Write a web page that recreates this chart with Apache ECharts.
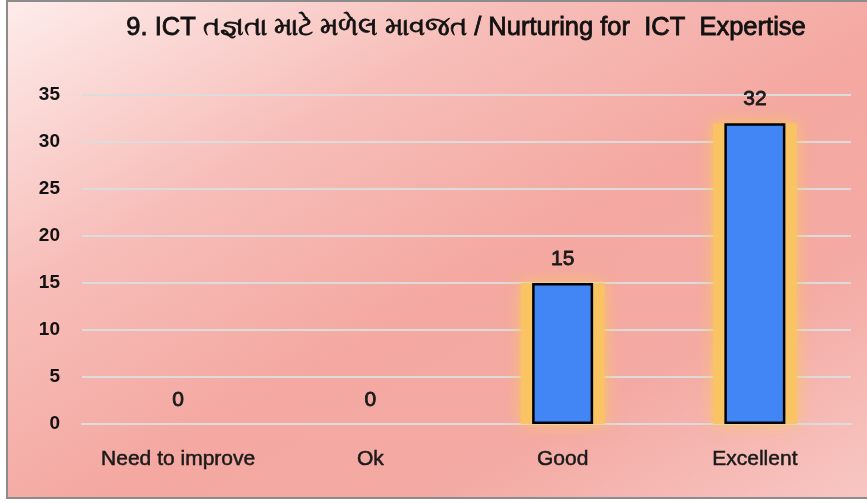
<!DOCTYPE html>
<html>
<head>
<meta charset="utf-8">
<script src="https://cdn.jsdelivr.net/npm/echarts@6/dist/echarts.min.js"></script>
<style>
  html, body { margin: 0; padding: 0; background: #ffffff; }
  #frame {
    position: absolute; left: 6px; top: 0; width: 865px; height: 495px;
    border: 2px solid #8c8c8c;
    background: linear-gradient(150deg, #fdeceb 0%, #f7bdb8 30%, #f4a8a1 55%, #f4aaa4 75%, #f8c7c3 100%);
  }
  #chart { position: absolute; left: 0; top: 0; width: 867px; height: 503px; }
</style>
</head>
<body>
<div id="frame"></div>
<div id="chart"></div>
<script>
const chartTitle = '9. ICT તજ્ઞતા માટે મળેલ માવજત / Nurturing for  ICT  Expertise';
const categories = ['Need to improve', 'Ok', 'Good', 'Excellent'];
const counts = [0, 0, 15, 32];

const fontName = 'Liberation Sans, Arial, sans-serif';

let myChart = echarts.init(document.getElementById('chart'));
myChart.setOption({
  backgroundColor: 'transparent',
  title: {
    text: chartTitle,
    left: 461,
    top: 10,
    textAlign: 'center',
    textStyle: {
      fontFamily: fontName,
      fontSize: 25.5,
      fontWeight: 'normal',
      color: '#111',
      textBorderColor: '#111',
      textBorderWidth: 0.8
    }
  },
  grid: {
    left: 82,
    right: 16,
    top: 95,
    bottom: 79
  },
  xAxis: [{
    type: 'category',
    data: categories,
    axisLine: { show: true, lineStyle: { color: '#dcdcdc', width: 2 } },
    axisTick: { show: false },
    axisLabel: {
      interval: 0,
      margin: 25,
      fontFamily: fontName,
      fontSize: 21,
      color: '#1a1a1a',
      textBorderColor: '#1a1a1a',
      textBorderWidth: 0.5
    }
  }, {
    // hidden twin axis so the glow is centred on its own
    type: 'category',
    data: categories,
    show: false
  }],
  yAxis: {
    type: 'value',
    min: 0,
    max: 35,
    interval: 5,
    axisLine: { show: false },
    axisTick: { show: false },
    splitLine: { lineStyle: { color: '#dcdcdc', width: 2 } },
    axisLabel: {
      margin: 22,
      fontFamily: fontName,
      fontSize: 19,
      fontWeight: 'bold',
      color: '#111'
    }
  },
  series: [{
    // soft yellow glow behind each bar
    type: 'bar',
    xAxisIndex: 1,
    data: counts.map(function (v) { return v === 0 ? { value: v, itemStyle: { opacity: 0 } } : v; }),
    barWidth: 84,
    silent: true,
    z: 1,
    itemStyle: {
      color: 'rgba(249, 196, 96, 0.9)',
      shadowColor: 'rgba(249, 200, 100, 1)',
      shadowBlur: 16
    }
  }, {
    type: 'bar',
    xAxisIndex: 0,
    data: counts.map(function (v) { return v === 0 ? { value: v, itemStyle: { borderWidth: 0 } } : v; }),
    barWidth: 61,
    z: 2,
    itemStyle: {
      color: '#4285f4',
      borderColor: '#000',
      borderWidth: 2.5
    },
    label: {
      show: true,
      position: 'top',
      distance: 13,
      fontFamily: fontName,
      fontSize: 21,
      color: '#1a1a1a',
      textBorderColor: '#1a1a1a',
      textBorderWidth: 0.8
    }
  }]
});
</script>
</body>
</html>
